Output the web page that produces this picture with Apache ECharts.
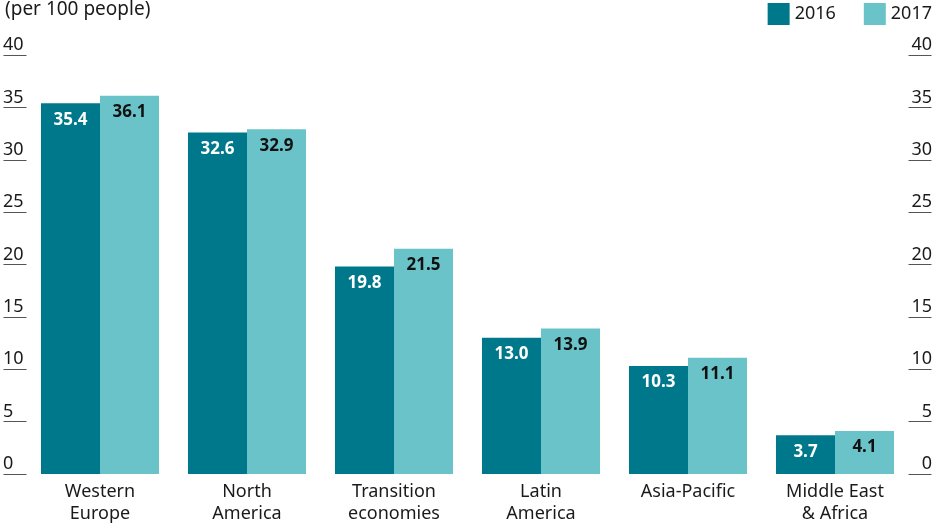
<!DOCTYPE html>
<html>
<head>
<meta charset="utf-8">
<script src="https://cdn.jsdelivr.net/npm/echarts@6/dist/echarts.min.js"></script>
<style>
  html, body { margin: 0; padding: 0; background: #fff; }
  #chart { width: 934px; height: 523px; }
</style>
</head>
<body>
<div id="chart"></div>
<script>
// Regions shown along the x axis
const regions = ['Western\nEurope', 'North\nAmerica', 'Transition\neconomies', 'Latin\nAmerica', 'Asia-Pacific', 'Middle East\n& Africa'];
// Values per 100 people
const values2016 = [35.4, 32.6, 19.8, 13.0, 10.3, 3.7];
const values2017 = [36.1, 32.9, 21.5, 13.9, 11.1, 4.1];
// Value axis range
const axisMin = 0;
const axisMax = 40;
const axisStep = 5;

const FONT = '"Noto Sans", sans-serif';
const TEXT = '#1a1a1a';
const DARK = '#00788c';
const LIGHT = '#6ac3c8';

const valueAxis = (pos) => ({
  type: 'value',
  position: pos,
  min: axisMin,
  max: axisMax,
  interval: axisStep,
  splitLine: { show: false },
  axisLine: { show: false },
  axisTick: { show: true, inside: false, length: 23, lineStyle: { color: '#555', width: 1 } },
  axisLabel: {
    show: true,
    fontFamily: FONT,
    fontSize: 18,
    color: TEXT,
    align: pos === 'left' ? 'left' : 'right',
    verticalAlign: 'bottom',
    margin: 23.5,
    padding: [0, 0, 1, 0]
  }
});

const chart = echarts.init(document.getElementById('chart'), null, { renderer: 'canvas' });
chart.setOption({
  animation: false,
  textStyle: { fontFamily: FONT },
  title: {
    text: '(per 100 people)',
    left: 0,
    top: -5,
    textStyle: { fontFamily: FONT, fontSize: 19, fontWeight: 'normal', color: TEXT }
  },
  legend: {
    right: 2,
    top: 3,
    padding: 0,
    itemWidth: 22,
    itemHeight: 22,
    itemGap: 28,
    icon: 'rect',
    textStyle: { fontFamily: FONT, fontSize: 18, color: TEXT },
    data: ['2016', '2017']
  },
  grid: { left: 26.5, right: 25.5, top: 55, bottom: 49, containLabel: false, outerBoundsMode: 'none' },
  xAxis: {
    type: 'category',
    data: regions,
    axisLine: { show: false },
    axisTick: { show: false },
    axisLabel: {
      fontFamily: FONT,
      fontSize: 18,
      color: TEXT,
      margin: 7,
      lineHeight: 22,
      interval: 0
    }
  },
  yAxis: [valueAxis('left'), valueAxis('right')],
  series: [
    {
      name: '2016',
      type: 'bar',
      data: values2016,
      barGap: '0%',
      barCategoryGap: '19.7%',
      itemStyle: { color: DARK },
      label: {
        show: true,
        position: 'insideTop',
        distance: 8,
        formatter: (p) => p.value.toFixed(1),
        fontFamily: FONT,
        fontSize: 17,
        fontWeight: 'bold',
        color: '#fff'
      }
    },
    {
      name: '2017',
      type: 'bar',
      yAxisIndex: 0,
      data: values2017,
      itemStyle: { color: LIGHT },
      label: {
        show: true,
        position: 'insideTop',
        distance: 8,
        formatter: (p) => p.value.toFixed(1),
        fontFamily: FONT,
        fontSize: 17,
        fontWeight: 'bold',
        color: '#111'
      }
    }
  ]
});
</script>
</body>
</html>
